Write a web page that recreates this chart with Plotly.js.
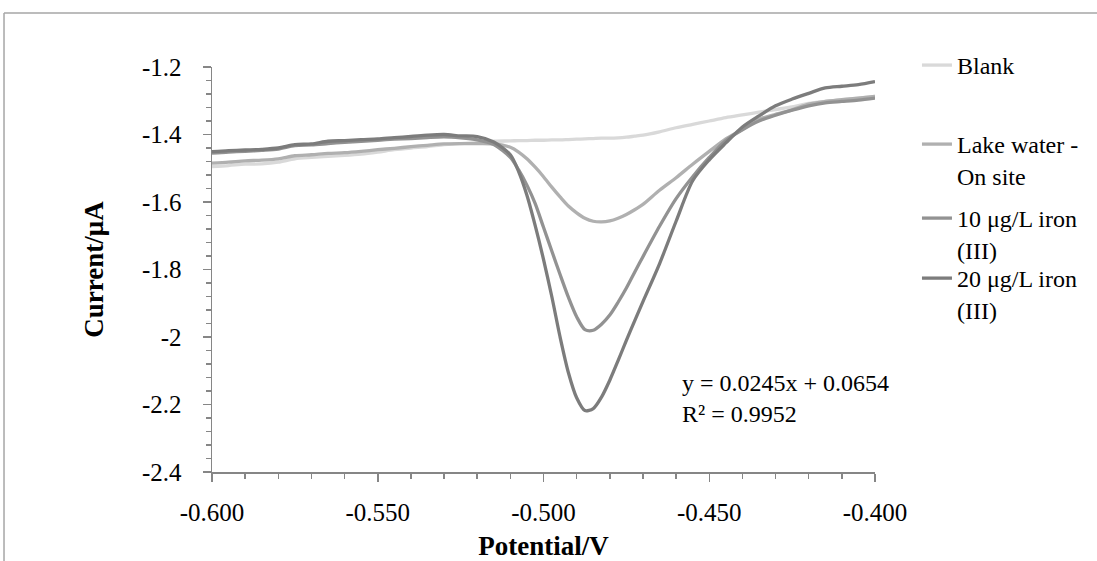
<!DOCTYPE html>
<html>
<head>
<meta charset="utf-8">
<script src="https://cdn.plot.ly/plotly-3.0.1.min.js"></script>
<style>html,body{margin:0;padding:0;background:#fff;}</style>
</head>
<body>
<div id="chart" style="width:1097px;height:561px;"></div>
<script>
const potential = [-0.600,-0.595,-0.590,-0.585,-0.580,-0.575,-0.570,-0.565,-0.560,-0.555,-0.550,-0.545,-0.540,-0.535,-0.530,-0.525,-0.520,-0.515,-0.510,
  -0.5075,-0.505,-0.5025,-0.500,-0.4975,-0.495,-0.4925,-0.490,-0.4875,-0.485,-0.4825,-0.480,-0.4775,-0.475,-0.4725,-0.470,
  -0.465,-0.460,-0.455,-0.450,-0.445,-0.440,-0.435,-0.430,-0.425,-0.420,-0.415,-0.410,-0.405,-0.400];

const blank = [-1.495,-1.492,-1.488,-1.487,-1.482,-1.472,-1.468,-1.465,-1.462,-1.458,-1.452,-1.445,-1.440,-1.436,-1.430,-1.427,-1.424,-1.420,-1.419,
  -1.418,-1.418,-1.417,-1.417,-1.416,-1.416,-1.415,-1.414,-1.413,-1.412,-1.411,-1.411,-1.410,-1.408,-1.405,-1.402,
  -1.392,-1.380,-1.370,-1.360,-1.350,-1.342,-1.334,-1.326,-1.318,-1.308,-1.302,-1.297,-1.292,-1.287];

const lakeWater = [-1.485,-1.482,-1.478,-1.476,-1.472,-1.463,-1.460,-1.456,-1.454,-1.450,-1.445,-1.441,-1.436,-1.432,-1.428,-1.427,-1.427,-1.428,-1.438,
  -1.452,-1.472,-1.497,-1.525,-1.556,-1.585,-1.612,-1.632,-1.648,-1.657,-1.659,-1.656,-1.648,-1.637,-1.623,-1.607,
  -1.565,-1.528,-1.488,-1.450,-1.413,-1.385,-1.355,-1.340,-1.327,-1.310,-1.302,-1.297,-1.292,-1.287];

const iron10 = [-1.455,-1.452,-1.450,-1.447,-1.443,-1.433,-1.431,-1.427,-1.423,-1.420,-1.417,-1.414,-1.412,-1.409,-1.407,-1.410,-1.416,-1.430,-1.468,
  -1.505,-1.550,-1.605,-1.675,-1.745,-1.815,-1.882,-1.940,-1.978,-1.980,-1.962,-1.935,-1.897,-1.855,-1.808,-1.762,
  -1.672,-1.590,-1.525,-1.468,-1.418,-1.386,-1.360,-1.343,-1.328,-1.315,-1.306,-1.302,-1.298,-1.292];

const iron20 = [-1.451,-1.448,-1.446,-1.444,-1.440,-1.430,-1.428,-1.420,-1.418,-1.415,-1.413,-1.409,-1.406,-1.402,-1.400,-1.404,-1.406,-1.422,-1.460,
  -1.510,-1.580,-1.670,-1.770,-1.880,-2.000,-2.105,-2.180,-2.218,-2.212,-2.178,-2.128,-2.070,-2.010,-1.952,-1.895,
  -1.783,-1.657,-1.537,-1.475,-1.425,-1.378,-1.345,-1.315,-1.295,-1.278,-1.262,-1.257,-1.252,-1.243];

const seriesNames = ['Blank', 'Lake water -<br>On site', '10 μg/L iron<br>(III)', '20 μg/L iron<br>(III)'];
const xTickVals = [-0.600, -0.550, -0.500, -0.450, -0.400];
const xTickLabels = ['-0.600', '-0.550', '-0.500', '-0.450', '-0.400'];
const yTickVals = [-1.2, -1.4, -1.6, -1.8, -2.0, -2.2, -2.4];
const yTickLabels = ['-1.2', '-1.4', '-1.6', '-1.8', '-2', '-2.2', '-2.4'];
const equationText = 'y = 0.0245x + 0.0654';
const r2Text = 'R² = 0.9952';

const FONT = '"Liberation Serif", "Times New Roman", serif';
const colors = ['#d9d9d9', '#b0b0b0', '#929292', '#7c7c7c'];
const ys = [blank, lakeWater, iron10, iron20];
const legendIds = ['legend', 'legend2', 'legend3', 'legend4'];

const traces = ys.map((y, i) => ({
  x: potential, y: y, type: 'scatter', mode: 'lines',
  name: seriesNames[i], legend: legendIds[i],
  line: {color: colors[i], width: 3.3, shape: 'spline', smoothing: 0.8}
}));

function legendAt(yPaper) {
  return {x: 1.0633, y: yPaper, xanchor: 'left', yanchor: 'top', bgcolor: 'rgba(0,0,0,0)',
    borderwidth: 0, valign: 'top', font: {family: FONT, size: 24, color: '#000'}};
}

const axisGray = '#868686';
const layout = {
  width: 1097, height: 561,
  margin: {l: 212, r: 222, t: 67, b: 89},
  paper_bgcolor: '#fff', plot_bgcolor: '#fff',
  font: {family: FONT, size: 24, color: '#000'},
  showlegend: true,
  legend: legendAt(1.0593),
  legend2: legendAt(0.8642),
  legend3: legendAt(0.6815),
  legend4: legendAt(0.5333),
  xaxis: {
    range: [-0.6, -0.4], tickvals: xTickVals, ticktext: xTickLabels,
    ticks: 'outside', ticklen: 8, tickwidth: 1.5, tickcolor: axisGray,
    showline: true, linecolor: axisGray, linewidth: 1.5,
    showgrid: false, zeroline: false, ticklabelstandoff: 9,
    tickfont: {family: FONT, size: 25, color: '#000'},
    minor: {tick0: -0.6, dtick: 0.01, ticks: 'outside', ticklen: 5, tickwidth: 1.5, tickcolor: axisGray, showgrid: false},
    title: {text: '<b>Potential/V</b>', font: {family: FONT, size: 27, color: '#000'}}
  },
  yaxis: {
    range: [-2.4, -1.2], tickvals: yTickVals, ticktext: yTickLabels,
    ticks: 'outside', ticklen: 8, tickwidth: 1.5, tickcolor: axisGray,
    showline: true, linecolor: axisGray, linewidth: 1.5,
    showgrid: false, zeroline: false, ticklabelstandoff: 16,
    tickfont: {family: FONT, size: 25, color: '#000'},
    minor: {tick0: -2.4, dtick: 0.04, ticks: 'outside', ticklen: 5, tickwidth: 1.5, tickcolor: axisGray, showgrid: false},
    title: {text: '<b>Current/μA</b>', standoff: 30, font: {family: FONT, size: 27, color: '#000'}}
  },
  annotations: [
    {x: -0.4588, y: -2.136, xref: 'x', yref: 'y', text: equationText, showarrow: false, xanchor: 'left', yanchor: 'middle',
     font: {family: FONT, size: 24, color: '#000'}},
    {x: -0.4588, y: -2.228, xref: 'x', yref: 'y', text: r2Text, showarrow: false, xanchor: 'left', yanchor: 'middle',
     font: {family: FONT, size: 24, color: '#000'}}
  ],
  shapes: [
    {type: 'line', xref: 'paper', yref: 'paper', x0: -0.3137, x1: 1.34, y0: 1.1333, y1: 1.1333, line: {color: '#a6a6a6', width: 1.5}},
    {type: 'line', xref: 'paper', yref: 'paper', x0: -0.3137, x1: -0.3137, y0: 1.1333, y1: -0.23, line: {color: '#a6a6a6', width: 1.5}}
  ]
};

Plotly.newPlot('chart', traces, layout, {displayModeBar: false, staticPlot: true});
</script>
</body>
</html>
